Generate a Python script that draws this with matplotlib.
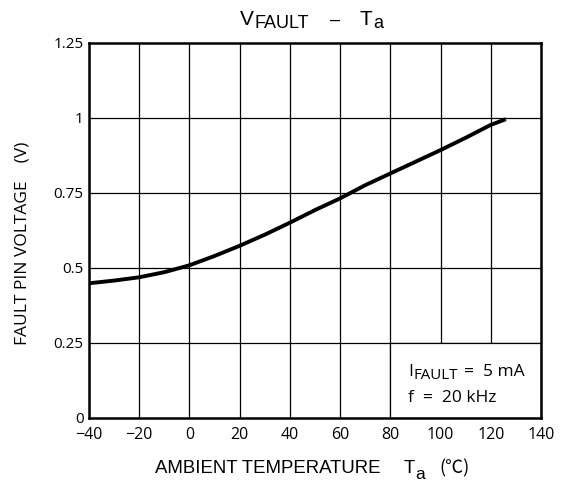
import matplotlib
matplotlib.use("Agg")
import matplotlib.pyplot as plt
from matplotlib.patches import Rectangle
from matplotlib.transforms import IdentityTransform

# Data
temp = [-40, -30, -20, -10, 0, 10, 20, 30, 40, 50, 60, 70, 80, 90, 100, 110, 120, 126]
vfault = [0.449, 0.458, 0.469, 0.486, 0.509, 0.540, 0.574, 0.611, 0.651,
          0.693, 0.732, 0.776, 0.815, 0.854, 0.893, 0.934, 0.977, 0.996]

x_ticks = [-40, -20, 0, 20, 40, 60, 80, 100, 120, 140]
x_labels = ["\u221240", "\u221220", "0", "20", "40", "60", "80", "100", "120", "140"]
y_ticks = [0, 0.25, 0.5, 0.75, 1.0, 1.25]
y_labels = ["0", "0.25", "0.5", "0.75", "1", "1.25"]

W, H = 564, 484
fig = plt.figure(figsize=(W / 100, H / 100), dpi=100)
ax = fig.add_axes([0.1578, 0.1364, 0.8014, 0.7748])
renderer = fig.canvas.get_renderer()


def run_text(x, y, pieces):
    # pieces: (text, fontsize, family, baseline shift px, gap after px)
    # x, y in display pixels (origin bottom-left), y is the baseline
    for s, size, fam, dy, gap in pieces:
        t = fig.text(x, y - dy, s, fontsize=size, family=fam, ha="left",
                     va="baseline", transform=IdentityTransform(), zorder=6)
        bb = t.get_window_extent(renderer)
        x = bb.x1 + gap


ax.set_xlim(-40, 140)
ax.set_ylim(0, 1.25)

# grid
for xv in x_ticks[1:-1]:
    ax.axvline(xv, color="black", lw=0.9, zorder=1)
for yv in y_ticks[1:-1]:
    ax.axhline(yv, color="black", lw=0.9, zorder=1)

# white box for the test conditions
ax.add_patch(Rectangle((80, 0), 60, 0.25, facecolor="white", edgecolor="black",
                       lw=0.9, zorder=2))

ax.plot(temp, vfault, color="black", lw=2.8, zorder=3, solid_capstyle="butt")

ax.set_xticks(x_ticks)
ax.set_xticklabels(x_labels, family="Open Sans", fontsize=11.5)
ax.set_yticks(y_ticks)
ax.set_yticklabels(y_labels, family="Open Sans", fontsize=11)
ax.tick_params(axis="x", length=0, pad=6.5)
ax.tick_params(axis="y", length=0, pad=4)
for lab in ax.get_yticklabels():
    lab.set_y(lab.get_position()[1])

for s in ax.spines.values():
    s.set_linewidth(1.8)
    s.set_zorder(5)

# condition text inside the box
px, py = ax.transData.transform((87, 0.14))
run_text(px, py, [("I", 12.5, "Open Sans", 0, 0.5),
                  ("FAULT", 10.8, "Open Sans", 3, 6),
                  ("=  5 mA", 12.5, "Open Sans", 0, 0)])
px, py = ax.transData.transform((87, 0.053))
run_text(px, py, [("f  =  20 kHz", 12.5, "Open Sans", 0, 0)])

# title
run_text(240, H - 25, [("V", 15, "Liberation Sans", 0, 0.5),
                       ("FAULT", 13, "Liberation Sans", 3, 21),
                       ("\u2013", 13, "Liberation Sans", 0, 19),
                       ("T", 15, "Liberation Sans", 0, 1),
                       ("a", 13, "Liberation Sans", 3, 0)])

# x axis label
run_text(155, H - 473, [("AMBIENT TEMPERATURE", 13.4, "Liberation Sans", 0, 23),
                        ("T", 13.4, "Liberation Sans", 0, 1),
                        ("a", 12.5, "Liberation Sans", 6, 14),
                        ("(\u2103)", 13, "Noto Sans CJK JP", 0, 0)])

# y axis label
fig.text(22.5 / W, 1 - 243 / H, "FAULT PIN VOLTAGE    (V)", rotation=90,
         ha="center", va="center", fontsize=12.5, family="Open Sans")

fig.savefig("out.png", dpi=100)
